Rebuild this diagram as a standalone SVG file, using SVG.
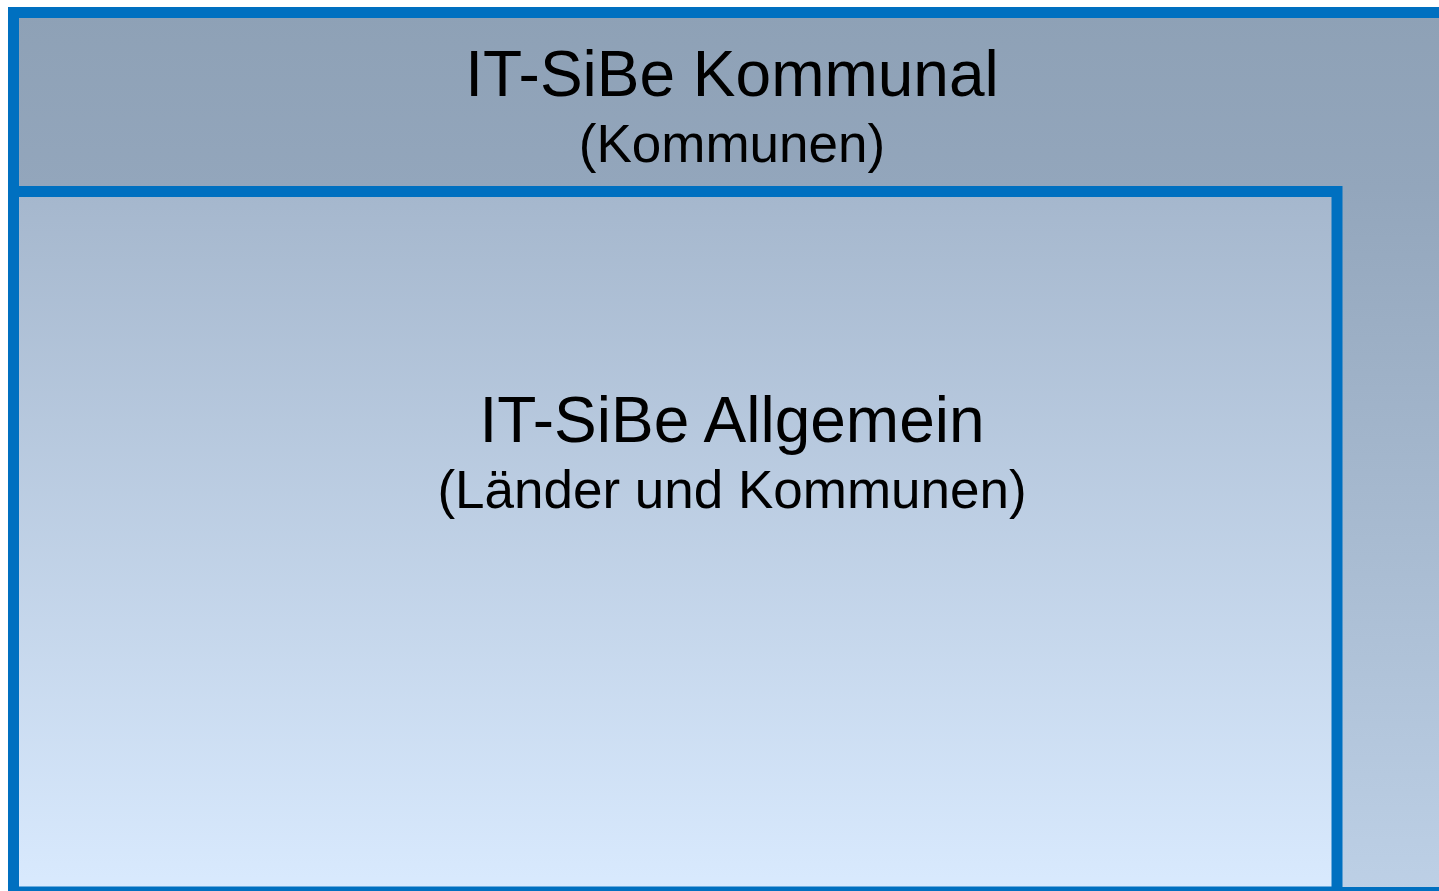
<svg xmlns="http://www.w3.org/2000/svg" width="1439" height="891" viewBox="0 0 1439 891">
  <defs>
    <linearGradient id="gOuter" gradientUnits="userSpaceOnUse" x1="0" y1="12" x2="0" y2="892">
      <stop offset="0" stop-color="#8EA1B6"/>
      <stop offset="0.2" stop-color="#93A6BC"/>
      <stop offset="1" stop-color="#BDD0E6"/>
    </linearGradient>
    <linearGradient id="gInner" gradientUnits="userSpaceOnUse" x1="0" y1="192" x2="0" y2="892">
      <stop offset="0" stop-color="#A5B7CD"/>
      <stop offset="1" stop-color="#D9EAFE"/>
    </linearGradient>
  </defs>
  <style>
    .box { stroke: #0070C0; stroke-width: 11; }
    .title { font-family: "Liberation Sans", Arial, sans-serif; font-size: 64px; fill: #000; text-anchor: middle; }
    .sub { font-family: "Liberation Sans", Arial, sans-serif; font-size: 53px; fill: #000; text-anchor: middle; }
  </style>
  <rect width="1439" height="891" fill="#FFFFFF"/>
  <g id="kommunal">
    <rect class="box" x="13.5" y="12.5" width="1440" height="880" fill="url(#gOuter)"/>
    <text class="title" x="732" y="96">IT-SiBe Kommunal</text>
    <text class="sub" x="732" y="162">(Kommunen)</text>
  </g>
  <g id="allgemein">
    <rect class="box" x="13.5" y="191.5" width="1323.5" height="700.5" fill="url(#gInner)"/>
    <text class="title" x="732" y="442">IT-SiBe Allgemein</text>
    <text class="sub" x="732" y="508">(Länder und Kommunen)</text>
  </g>
  <g id="connectors"/>
</svg>
